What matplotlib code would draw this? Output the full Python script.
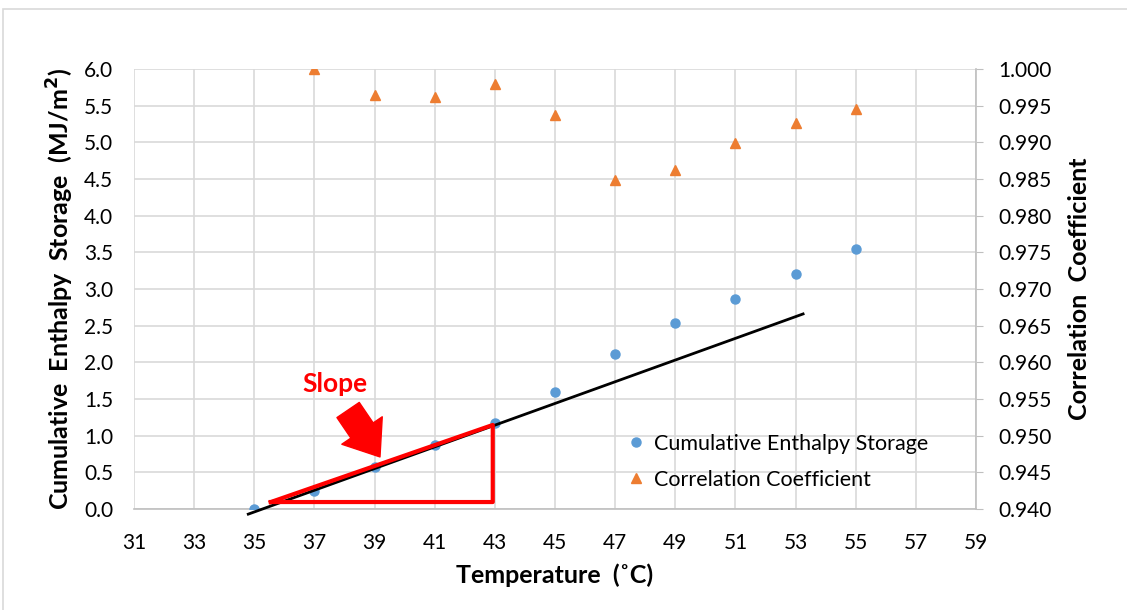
import matplotlib.pyplot as plt
from matplotlib.patches import Rectangle

plt.rcParams['font.family'] = ['Lato', 'DejaVu Sans']

# data
temp = [35, 37, 39, 41, 43, 45, 47, 49, 51, 53, 55]
enthalpy = [0.0, 0.24, 0.57, 0.87, 1.17, 1.59, 2.12, 2.54, 2.87, 3.20, 3.54]
temp_r = [37, 39, 41, 43, 45, 47, 49, 51, 53, 55]
corr = [1.000, 0.9965, 0.9962, 0.998, 0.9937, 0.9848, 0.9862, 0.9899, 0.9926, 0.9945]

# linear fit line drawn on the chart
fit_x = [34.8, 53.25]
fit_y = [-0.07, 2.66]

# slope triangle
tri_x = [35.55, 42.93, 42.93, 35.55]
tri_y = [0.095, 0.095, 1.146, 0.095]

xticks = list(range(31, 60, 2))
yticks = [i * 0.5 for i in range(13)]
rticks = [0.940 + i * 0.005 for i in range(13)]

fig = plt.figure(figsize=(11.27, 6.10), dpi=100)
fig.patches.append(Rectangle((3 / 1127, -0.1), 1.2, 1 - 9 / 610 + 0.1,
                             transform=fig.transFigure, fill=False,
                             edgecolor='#d9d9d9', linewidth=1.2))
ax = fig.add_axes([134 / 1127, 1 - 509 / 610, (976 - 134) / 1127, (509 - 69) / 610])
ax2 = ax.twinx()

ax.set_xlim(31, 59)
ax.set_ylim(0, 6.0)
ax.set_xticks(xticks)
ax.set_yticks(yticks)
ax.set_yticklabels([f'{v:.1f}' for v in yticks])
ax.grid(True, color='#d9d9d9', linewidth=1.2)
ax.set_axisbelow(True)
for s in ['top', 'left', 'right']:
    ax.spines[s].set_visible(False)
ax.spines['bottom'].set_color('#bfbfbf')
ax.spines['bottom'].set_linewidth(1.2)
ax.tick_params(axis='x', length=0, labelsize=15, pad=17)
ax.tick_params(axis='y', length=0, labelsize=15, pad=15)

ax2.set_ylim(0.940, 1.000)
ax2.set_yticks(rticks)
ax2.set_yticklabels([f'{v:.3f}' for v in rticks])
for s in ['top', 'left', 'bottom']:
    ax2.spines[s].set_visible(False)
ax2.spines['right'].set_color('#bfbfbf')
ax2.spines['right'].set_linewidth(1.2)
ax2.tick_params(axis='y', length=5, color='#bfbfbf', labelsize=15, pad=11)

# series
p1, = ax.plot(temp, enthalpy, 'o', color='#5b9bd5', markersize=6.5,
              label='Cumulative Enthalpy Storage', zorder=3)
p2, = ax2.plot(temp_r, corr, '^', color='#ed7d31', markersize=6.5,
               label='Correlation Coefficient', zorder=3)

ax.plot(fit_x, fit_y, color='black', linewidth=2, zorder=4, clip_on=False)
ax.plot(tri_x, tri_y, color='#ff0000', linewidth=3, zorder=5)

ax.annotate('', xy=(39.18, 0.71), xytext=(38.12, 1.35),
            arrowprops=dict(arrowstyle='simple,head_length=1.15,head_width=1.76,tail_width=0.97',
                            color='#ff0000', mutation_scale=20, shrinkA=0, shrinkB=0),
            zorder=6)
ax.text(37.68, 1.70, 'Slope', color='#ff0000', fontsize=19, fontweight='bold',
        ha='center', va='center')

ax.legend([p1, p2], ['Cumulative Enthalpy Storage', 'Correlation Coefficient'],
          loc='center left', bbox_to_anchor=(0.584, 0.107), frameon=False,
          fontsize=15.5, handletextpad=0.3, handlelength=1.0, labelspacing=0.75,
          borderpad=0, borderaxespad=0)

ax.set_xlabel('Temperature  (˚C)', fontsize=18, fontweight='bold', labelpad=8)
ax.set_ylabel('Cumulative  Enthalpy  Storage  (MJ/m$^\\mathbf{2}$)', fontsize=18,
              fontweight='bold', labelpad=6)
ax2.set_ylabel('Correlation  Coefficient', fontsize=18, fontweight='bold',
               labelpad=12)

plt.savefig('out.png', dpi=100)
